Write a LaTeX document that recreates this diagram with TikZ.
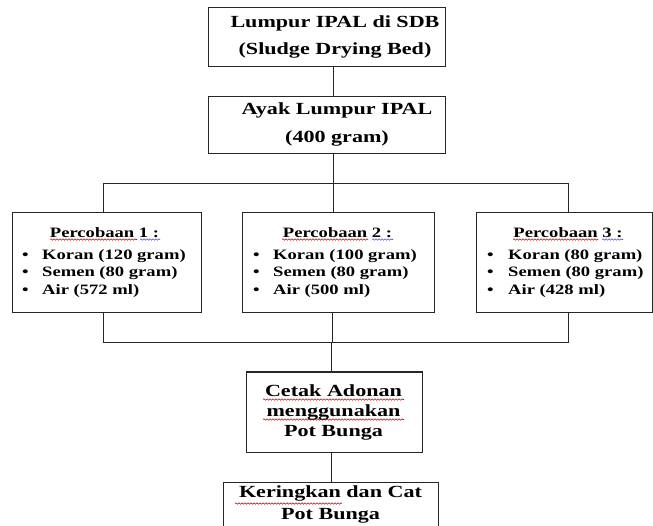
\documentclass[tikz,border=0pt]{standalone}
\usepackage{fontspec}
\setmainfont[FakeStretch=1.3]{Liberation Serif}
\usetikzlibrary{decorations.pathmorphing}
\begin{document}
\begin{tikzpicture}[x=1pt,y=-1pt,
  box/.style={draw=black!85,line width=1pt,inner sep=0pt,fill=white},
  big/.style={font=\bfseries\fontsize{17}{27}\selectfont,align=center,inner sep=0pt},
  head/.style={font=\bfseries\fontsize{14.3}{17}\selectfont,inner sep=0pt},
  item/.style={font=\bfseries\fontsize{14.3}{17}\selectfont,anchor=west,inner sep=0pt},
  link/.style={draw=black!85,line width=1pt},
  spell/.style={draw=red!85!black,line width=0.6pt,decorate,decoration={snake,amplitude=0.7pt,segment length=3pt}},
  gram/.style={draw=blue!70,line width=0.6pt,decorate,decoration={snake,amplitude=0.7pt,segment length=3pt}}]
\clip (0,0) rectangle (653,526);
\useasboundingbox (0,0) rectangle (653,526);
\fill[white] (0,0) rectangle (653,526);
% guide coordinates
\coordinate (sx) at (333,0);
\coordinate (s1) at (103,0);
\coordinate (s2) at (332,0);
\coordinate (s3) at (568,0);
\coordinate (sc) at (331,0);
\coordinate (jt) at (0,184);
\coordinate (jb) at (0,343);
% boxes
\node[box,minimum width=237pt,minimum height=59pt] (b1) at (326.5,37.5) {};
\node[box,minimum width=237pt,minimum height=57pt] (b2) at (326.5,125.5) {};
\node[box,minimum width=189pt,minimum height=100pt] (p1) at (106.5,263) {};
\node[box,minimum width=192pt,minimum height=100pt] (p2) at (338,263) {};
\node[box,minimum width=176pt,minimum height=100pt] (p3) at (564,263) {};
\node[box,minimum width=176pt,minimum height=80pt] (c) at (334,412) {};
\node[box,minimum width=215pt,minimum height=58pt] (k) at (330.5,511) {};
% connectors
\draw[link] (b1.south -| sx) -- (b2.north -| sx);
\draw[link] (b2.south -| sx) -- (sx |- jt);
\draw[link] (p1.north -| s1) |- (s3 |- jt) -- (p3.north -| s3);
\draw[link] (p2.north -| sx) -- (sx |- jt);
\draw[link] (p1.south -| s1) |- (s3 |- jb) -- (p3.south -| s3);
\draw[link] (p2.south -| s2) -- (s2 |- jb);
\draw[link] (sc |- jb) -- (c.north -| sc);
\draw[link] (c.south -| sc) -- (k.north -| sc);
% spell-check marks
\draw[spell] (50,239.5) -- (137,239.5);
\draw[gram] (140,239.5) -- (160,239.5);
\draw[spell] (282,239.5) -- (368,239.5);
\draw[gram] (372,239.5) -- (393,239.5);
\draw[spell] (513,239.5) -- (598,239.5);
\draw[gram] (602,239.5) -- (623,239.5);
\draw[spell] (263,399.5) -- (404,399.5);
\draw[spell] (263,419.5) -- (404,419.5);
\draw[spell] (235,503.5) -- (342,503.5);
% texts
\node[big] (t1) at (335,36.5) {Lumpur IPAL di SDB\\(Sludge Drying Bed)};
\node[big,font=\bfseries\fontsize{17}{28}\selectfont] (t2) at (337,124) {Ayak Lumpur IPAL\\(400 gram)};
\node[big,font=\bfseries\fontsize{17}{20}\selectfont] (tc) at (333.5,412) {Cetak Adonan\\menggunakan\\Pot Bunga};
\node[big,font=\bfseries\fontsize{17}{22}\selectfont] (tk) at (330.5,504) {Keringkan dan Cat\\Pot Bunga};
\node[head] (h1) at (104.5,233) {Percobaan 1 :};
\node[head] (h2) at (337.5,233) {Percobaan 2 :};
\node[head] (h3) at (568,233) {Percobaan 3 :};
\node[item] (p1a) at (22,256) {\makebox[20pt][l]{\textbullet}Koran (120 gram)};
\node[item] (p1b) at (22,273) {\makebox[20pt][l]{\textbullet}Semen (80 gram)};
\node[item] (p1c) at (22,291) {\makebox[20pt][l]{\textbullet}Air (572 ml)};
\node[item] (p2a) at (253,256) {\makebox[20pt][l]{\textbullet}Koran (100 gram)};
\node[item] (p2b) at (253,273) {\makebox[20pt][l]{\textbullet}Semen (80 gram)};
\node[item] (p2c) at (253,291) {\makebox[20pt][l]{\textbullet}Air (500 ml)};
\node[item] (p3a) at (487,256) {\makebox[21pt][l]{\textbullet}Koran (80 gram)};
\node[item] (p3b) at (487,273) {\makebox[21pt][l]{\textbullet}Semen (80 gram)};
\node[item] (p3c) at (487,291) {\makebox[21pt][l]{\textbullet}Air (428 ml)};
\end{tikzpicture}
\end{document}
